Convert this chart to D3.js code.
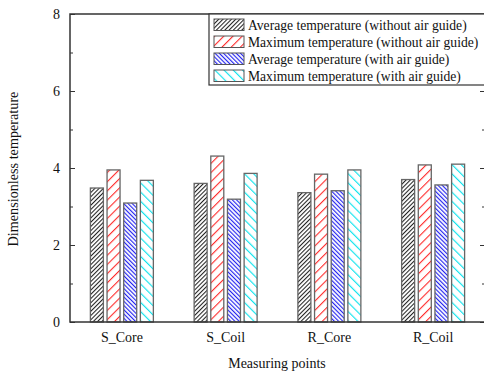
<!DOCTYPE html>
<html>
<head>
<meta charset="utf-8">
<script src="https://cdn.jsdelivr.net/npm/d3@7"></script>
<style>
  body { margin: 0; background: #fff; }
  text { font-family: "Liberation Serif", "Times New Roman", serif; fill: #111; }
</style>
</head>
<body>
<svg id="chart" width="484" height="374"></svg>
<script>
// chart values
var categories = ["S_Core", "S_Coil", "R_Core", "R_Coil"];
var seriesNames = [
    "Average temperature (without air guide)",
    "Maximum temperature (without air guide)",
    "Average temperature (with air guide)",
    "Maximum temperature (with air guide)"
];
var avgWithout = [3.48, 3.60, 3.36, 3.70];
var maxWithout = [3.95, 4.31, 3.84, 4.08];
var avgWith    = [3.09, 3.19, 3.41, 3.56];
var maxWith    = [3.68, 3.86, 3.95, 4.10];
var yTicks = [0, 2, 4, 6, 8];

var series = [avgWithout, maxWithout, avgWith, maxWith];
var hatchColor = ["#222", "#ff2a2a", "#2424f0", "#10e4ee"];
var hatchGap = [3, 6.5, 3, 6.5];
var hatchDir = [1, 1, -1, -1];
var hatchW = [1.1, 1.2, 1.3, 1.3];

var svg = d3.select("#chart"),
    margin = {top: 14, right: -1, bottom: 52, left: 70},
    width = +svg.attr("width") - margin.left - margin.right,
    height = +svg.attr("height") - margin.top - margin.bottom;

// hatch patterns
var defs = svg.append("defs");
series.forEach(function(s, i) {
    var gap = hatchGap[i];
    var p = defs.append("pattern")
        .attr("id", "hatch" + i)
        .attr("patternUnits", "userSpaceOnUse")
        .attr("width", gap)
        .attr("height", gap)
        .attr("patternTransform", "rotate(" + (hatchDir[i] * 45) + ")");
    p.append("rect").attr("width", gap).attr("height", gap).attr("fill", "#fff");
    p.append("line")
        .attr("x1", 0.5).attr("y1", 0).attr("x2", 0.5).attr("y2", gap)
        .attr("stroke", hatchColor[i])
        .attr("stroke-width", hatchW[i]);
});

var g = svg.append("g").attr("transform", "translate(" + margin.left + "," + margin.top + ")");

var x0 = d3.scaleBand()
    .domain(categories)
    .range([0, width])
    .paddingInner(0.393)
    .paddingOuter(0.1965);

var x1 = d3.scaleBand()
    .domain(d3.range(series.length))
    .range([0, x0.bandwidth()])
    .paddingInner(0.22);

var y = d3.scaleLinear().domain([0, 8]).range([height, 0]);

// bars
categories.forEach(function(c, ci) {
    var grp = g.append("g").attr("transform", "translate(" + x0(c) + ",0)");
    series.forEach(function(s, si) {
        grp.append("rect")
            .attr("x", x1(si))
            .attr("y", y(s[ci]))
            .attr("width", x1.bandwidth())
            .attr("height", height - y(s[ci]))
            .attr("fill", "url(#hatch" + si + ")")
            .attr("stroke", "#666")
            .attr("stroke-width", 1.3);
    });
});

// left axis, ticks inward
var yAxis = d3.axisLeft(y).tickValues(yTicks).tickSize(-5).tickPadding(10).tickFormat(d3.format("d"));
var ya = g.append("g").call(yAxis);
ya.select(".domain").remove();
ya.selectAll("text").style("font-size", "14px").attr("dy", "0.35em");
ya.selectAll("line").attr("stroke", "#333");

var minor = d3.axisLeft(y).tickValues([1, 3, 5, 7]).tickSize(-3).tickFormat("");
var ym = g.append("g").call(minor);
ym.select(".domain").remove();
ym.selectAll("line").attr("stroke", "#333");

// right axis ticks, inward
var yr = g.append("g").attr("transform", "translate(" + width + ",0)")
    .call(d3.axisRight(y).tickValues(yTicks).tickSize(-5).tickFormat(""));
yr.select(".domain").remove();
yr.selectAll("line").attr("stroke", "#333");
var yrm = g.append("g").attr("transform", "translate(" + width + ",0)")
    .call(d3.axisRight(y).tickValues([1, 3, 5, 7]).tickSize(-3).tickFormat(""));
yrm.select(".domain").remove();
yrm.selectAll("line").attr("stroke", "#333");

// frame
g.append("rect")
    .attr("width", width).attr("height", height)
    .attr("fill", "none")
    .attr("stroke", "#333")
    .attr("stroke-width", 1.5);

// category labels
var xa = g.append("g").attr("transform", "translate(0," + height + ")")
    .call(d3.axisBottom(x0).tickSize(0).tickPadding(10));
xa.select(".domain").remove();
xa.selectAll("text").style("font-size", "14px").attr("dy", "0.71em");

// axis titles
svg.append("text")
    .attr("transform", "translate(18," + (margin.top + height / 2 + 1) + ") rotate(-90)")
    .attr("text-anchor", "middle")
    .style("font-size", "14.2px")
    .text("Dimensionless temperature");

svg.append("text")
    .attr("x", 277)
    .attr("y", 368)
    .attr("text-anchor", "middle")
    .style("font-size", "14px")
    .text("Measuring points");

// legend
var lg = svg.append("g").attr("transform", "translate(209," + margin.top + ")");
lg.append("rect")
    .attr("width", 285).attr("height", 71)
    .attr("fill", "#fff")
    .attr("stroke", "#333")
    .attr("stroke-width", 1.2);
seriesNames.forEach(function(name, i) {
    var row = lg.append("g").attr("transform", "translate(5," + (5 + i * 17) + ")");
    row.append("rect")
        .attr("width", 30).attr("height", 11.5)
        .attr("fill", "url(#hatch" + i + ")")
        .attr("stroke", "#555")
        .attr("stroke-width", 1);
    row.append("text")
        .attr("x", 34)
        .attr("y", 6)
        .attr("dy", "0.35em")
        .style("font-size", "13.6px")
        .text(name);
});
</script>
</body>
</html>
